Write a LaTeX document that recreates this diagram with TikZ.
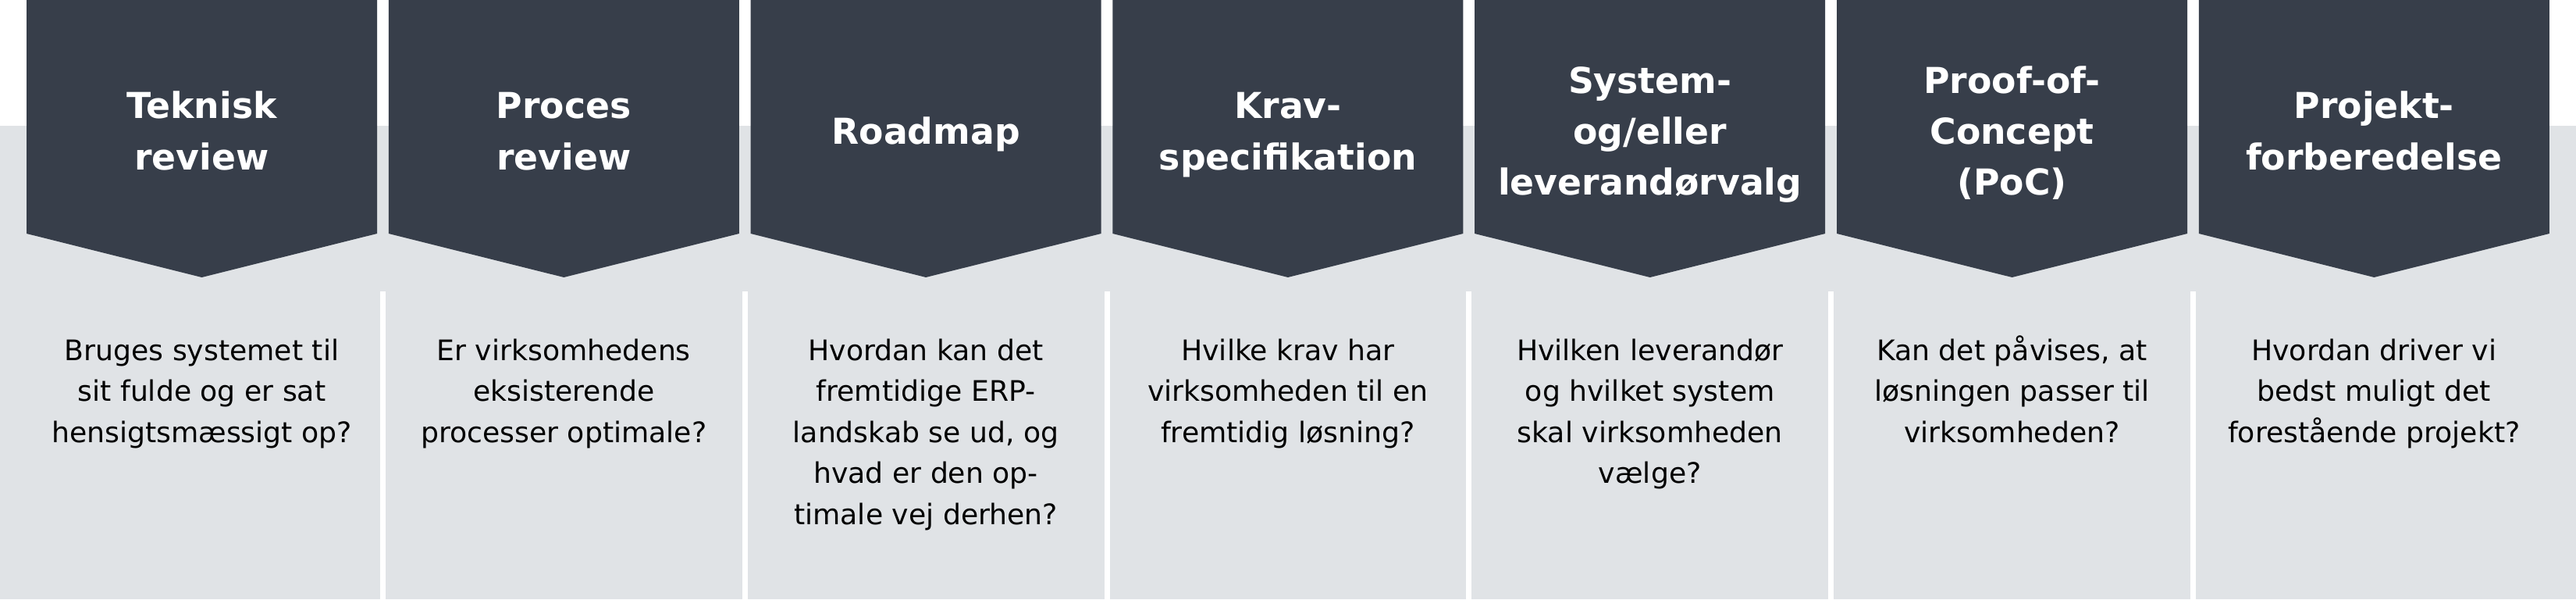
\documentclass[tikz,border=0pt]{standalone}
\usepackage{fontspec}
\setmainfont{DejaVu Sans}
\definecolor{chevdark}{HTML}{373E4A}
\definecolor{bandgray}{HTML}{E0E3E6}
\begin{document}
\begin{tikzpicture}[
  chev/.style={fill=chevdark},
  fasetext/.style={text=white, align=center, inner sep=0pt, font=\bfseries\fontsize{13}{18.5}\selectfont},
  qtext/.style={text=black, align=center, anchor=north, inner sep=0pt, font=\fontsize{10.3}{14.94}\selectfont},
  sep/.style={draw=white, line width=0.07cm}]
\useasboundingbox (0,0) rectangle (33,7.67);
\fill[white] (0,0) rectangle (33,7.67);
\fill[bandgray] (0,0) rectangle (33,6.06);
\fill[chev] (0.34,7.67) -- (4.83,7.67) -- (4.83,4.68) -- (2.585,4.12) -- (0.34,4.68) -- cycle;
\fill[chev] (4.978,7.67) -- (9.468,7.67) -- (9.468,4.68) -- (7.223,4.12) -- (4.978,4.68) -- cycle;
\fill[chev] (9.616,7.67) -- (14.106,7.67) -- (14.106,4.68) -- (11.861,4.12) -- (9.616,4.68) -- cycle;
\fill[chev] (14.254,7.67) -- (18.744,7.67) -- (18.744,4.68) -- (16.499,4.12) -- (14.254,4.68) -- cycle;
\fill[chev] (18.892,7.67) -- (23.382,7.67) -- (23.382,4.68) -- (21.137,4.12) -- (18.892,4.68) -- cycle;
\fill[chev] (23.53,7.67) -- (28.02,7.67) -- (28.02,4.68) -- (25.775,4.12) -- (23.53,4.68) -- cycle;
\fill[chev] (28.168,7.67) -- (32.658,7.67) -- (32.658,4.68) -- (30.413,4.12) -- (28.168,4.68) -- cycle;
\coordinate (sep1a) at (4.904,3.94);
\coordinate (sep1b) at (4.904,0);
\coordinate (sep2a) at (9.542,3.94);
\coordinate (sep2b) at (9.542,0);
\coordinate (sep3a) at (14.18,3.94);
\coordinate (sep3b) at (14.18,0);
\coordinate (sep4a) at (18.818,3.94);
\coordinate (sep4b) at (18.818,0);
\coordinate (sep5a) at (23.456,3.94);
\coordinate (sep5b) at (23.456,0);
\coordinate (sep6a) at (28.094,3.94);
\coordinate (sep6b) at (28.094,0);
\draw[sep] (sep1a) -- (sep1b);
\draw[sep] (sep2a) -- (sep2b);
\draw[sep] (sep3a) -- (sep3b);
\draw[sep] (sep4a) -- (sep4b);
\draw[sep] (sep5a) -- (sep5b);
\draw[sep] (sep6a) -- (sep6b);
\node[fasetext] (fase0) at (2.585,5.955) {\strut Teknisk\\review\strut};
\node[fasetext] (fase1) at (7.223,5.955) {\strut Proces\\review\strut};
\node[fasetext] (fase2) at (11.861,5.955) {\strut Roadmap\strut};
\node[fasetext] (fase3) at (16.499,5.955) {\strut Krav-\\specifikation\strut};
\node[fasetext] (fase4) at (21.137,5.955) {\strut System-\\og/eller\\leverandørvalg\strut};
\node[fasetext] (fase5) at (25.775,5.955) {\strut Proof-of-\\Concept\\(PoC)\strut};
\node[fasetext] (fase6) at (30.413,5.955) {\strut Projekt-\\forberedelse\strut};
\node[qtext] (q0) at (2.585,3.43) {\strut Bruges systemet til\\sit fulde og er sat\\hensigtsmæssigt op?};
\node[qtext] (q1) at (7.223,3.43) {\strut Er virksomhedens\\eksisterende\\processer optimale?};
\node[qtext] (q2) at (11.861,3.43) {\strut Hvordan kan det\\fremtidige ERP-\\landskab se ud, og\\hvad er den op-\\timale vej derhen?};
\node[qtext] (q3) at (16.499,3.43) {\strut Hvilke krav har\\virksomheden til en\\fremtidig løsning?};
\node[qtext] (q4) at (21.137,3.43) {\strut Hvilken leverandør\\og hvilket system\\skal virksomheden\\vælge?};
\node[qtext] (q5) at (25.775,3.43) {\strut Kan det påvises, at\\løsningen passer til\\virksomheden?};
\node[qtext] (q6) at (30.413,3.43) {\strut Hvordan driver vi\\bedst muligt det\\forestående projekt?};
\end{tikzpicture}
\end{document}
